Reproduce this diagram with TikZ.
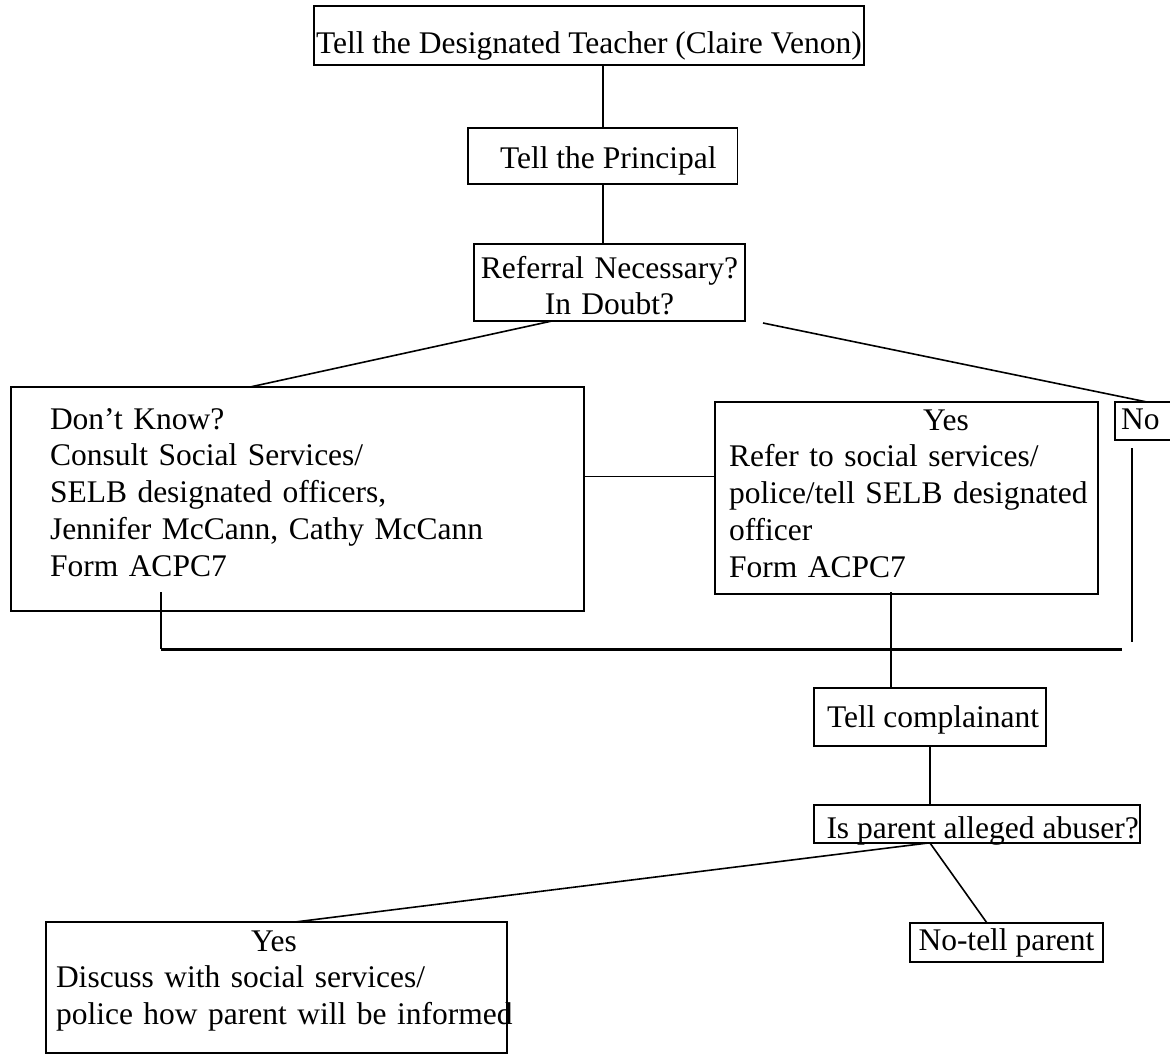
\documentclass[tikz,border=0pt]{standalone}
\usepackage{fontspec}
\setmainfont[Ligatures=CommonOff]{Liberation Serif}
\usepackage{tikz}
\newcommand{\boxfont}{\fontsize{31.5}{36.8}\selectfont\hyphenpenalty=10000\exhyphenpenalty=10000}

\begin{document}
\begin{tikzpicture}[x=1pt, y=-1pt,
		box/.style={draw, line width=1.6pt, anchor=north west, inner sep=0pt, outer sep=0pt, font=\boxfont},
		link/.style={line width=1.6pt},
		bus/.style={line width=3pt}]
		\useasboundingbox (0,0) rectangle (1170,1055);
		% boxes
		\node[box, inner xsep=2pt, text height=47pt, text depth=12pt] (teacher) at (314,6) {Tell the Designated Teacher (Claire Venon)};
		\node[box, text height=40pt, text depth=16pt] (principal) at (468,128) {\hspace*{32pt}Tell the Principal\hspace*{21pt}};
		\node[box, text width=271pt, align=center, text height=34pt, text depth=43pt] (referral) at (474,244) {\mbox{Referral Necessary?}\\In Doubt?};
		\node[box, text width=495pt, inner xsep=39pt, align=left, text height=42pt, text depth=182pt] (dontknow) at (11,387) {Don’t Know?\\Consult Social Services/\\SELB designated officers,\\Jennifer McCann, Cathy McCann\\Form ACPC7};
		\node[box, text width=355pt, inner xsep=14pt, align=left, text height=28pt, text depth=164pt] (yesrefer) at (715,402) {\hspace*{194pt}Yes\\Refer to social services/\\\mbox{police/tell SELB designated}\\officer\\Form ACPC7};
		\node[box, text width=70pt, align=left, text height=27pt, text depth=11pt] (no) at (1115,402) {\hspace*{6pt}No};
		\node[box, text height=39pt, text depth=19pt] (complainant) at (814,688) {\hspace*{13pt}Tell complainant\hspace*{7pt}};
		\node[box, inner xsep=1.5pt, text height=33pt, text depth=5pt] (abuser) at (814,805) {\hspace*{11pt}Is parent alleged abuser?};
		\node[box, inner xsep=8.5pt, text height=27pt, text depth=12pt] (notell) at (910,923) {No-tell parent};
		\node[box, text width=461pt, align=left, text height=29pt, text depth=102pt] (yesdiscuss) at (46,922) {\hspace*{205pt}Yes\\\hspace*{10pt}Discuss with social services/\\\hspace*{10pt}\mbox{police how parent will be informed}};
		% connectors
		\coordinate (busL) at (161,649);
		\coordinate (busR) at (1122,649);
		\coordinate (noend) at (1132,642);
		\draw[link] (principal.north |- teacher.south) -- (principal.north);
		\draw[link] (principal.south) -- (principal.south |- referral.north);
		\draw[link] ([xshift=78pt]referral.south west) -- ([xshift=239pt]dontknow.north west);
		\draw[link] ([shift={(18pt,-2pt)}]referral.south east) -- ([xshift=32pt]no.north west);
		\draw[link] ([yshift=22.5pt]dontknow.east) -- ([yshift=22.5pt]dontknow.east -| yesrefer.west);
		\draw[link] ([shift={(150pt,19pt)}]dontknow.south west) -- ([xshift=150pt]dontknow.south west |- busL);
		\draw[bus] (busL) -- (busR);
		\draw[link] ([shift={(17pt,-8pt)}]no.south west) -- (noend);
		\draw[link] ([shift={(176pt,2pt)}]yesrefer.south west) -- ([xshift=176pt]yesrefer.south west |- complainant.north);
		\draw[link] ([xshift=116pt]complainant.south west) -- ([xshift=116pt]complainant.south west |- abuser.north);
		\draw[link] ([xshift=114pt]abuser.south west) -- ([xshift=249pt]yesdiscuss.north west);
		\draw[link] ([xshift=116pt]abuser.south west) -- ([xshift=77pt]notell.north west);
\end{tikzpicture}
\end{document}
